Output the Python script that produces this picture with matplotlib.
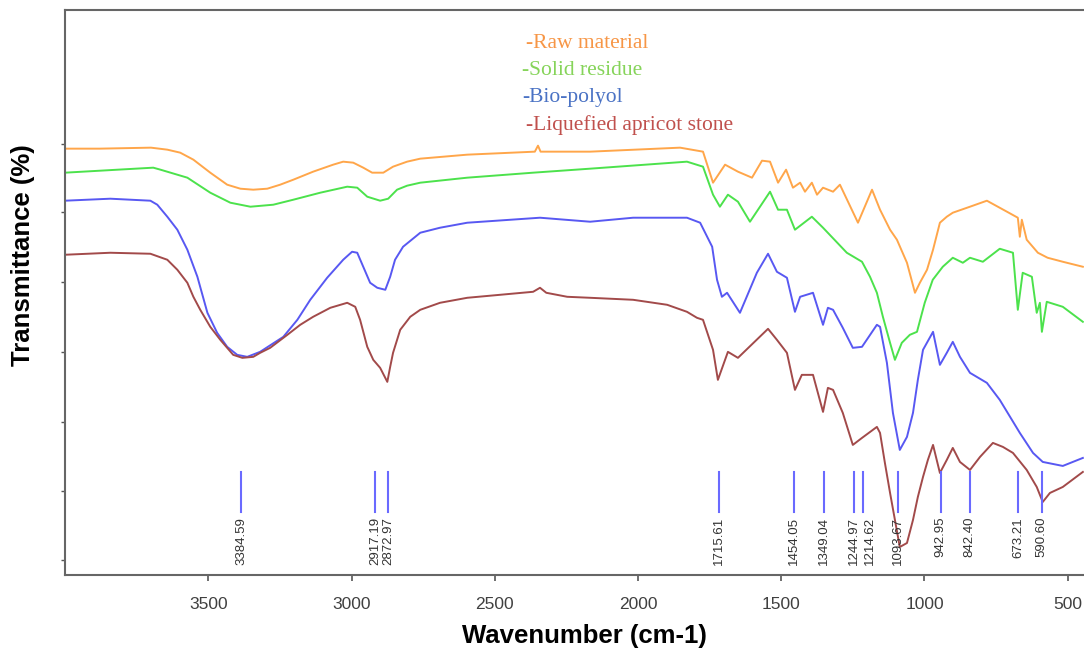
import matplotlib
matplotlib.use('Agg')
import matplotlib.pyplot as plt

# FTIR spectra, values (arbitrary transmittance units)
raw_wn = [4000, 3880, 3700, 3643, 3598, 3552, 3493, 3434, 3388, 3343, 3294, 3249, 3203,
          3134, 3064, 3029, 2994, 2959, 2928, 2889, 2855, 2806, 2760, 2596, 2360, 2349,
          2340, 2167, 1853, 1773, 1738, 1696, 1651, 1602, 1567, 1539, 1511, 1483, 1459,
          1434, 1417, 1393, 1375, 1354, 1319, 1295, 1232, 1183, 1155, 1120, 1096, 1061,
          1033, 1016, 991, 970, 946, 922, 901, 841, 782, 712, 674, 667, 660, 643, 604,
          570, 517, 447]
raw_t = [426, 426, 427, 425, 422, 415, 402, 390, 386, 385, 386, 390, 395,
         403, 410, 413, 412, 407, 402, 402, 408, 413, 416, 420, 423, 429,
         423, 423, 427, 423, 392, 410, 403, 397, 414, 413, 392, 405, 387,
         392, 383, 392, 380, 387, 383, 390, 352, 385, 365, 345, 335, 312,
         282, 292, 305, 325, 352, 358, 362, 368, 374, 363, 357, 338, 355, 335, 322,
         317, 313, 308]

res_wn = [4000, 3692, 3667, 3573, 3493, 3423, 3353, 3273, 3203, 3109, 3015, 2980, 2945,
          2900, 2872, 2841, 2806, 2760, 2596, 2366, 2167, 1829, 1773, 1738, 1714, 1686,
          1651, 1609, 1539, 1511, 1480, 1452, 1393, 1354, 1271, 1218, 1190, 1166, 1145,
          1120, 1103, 1079, 1051, 1026, 999, 971, 936, 901, 866, 841, 796, 737, 691,
          674, 657, 625, 608, 597, 590, 573, 517, 447]
res_t = [402, 407, 405, 397, 382, 372, 368, 370, 375, 382, 388, 387, 378,
         374, 376, 385, 389, 392, 397, 402, 406, 413, 408, 380, 368, 380,
         373, 353, 383, 365, 365, 345, 358, 347, 322, 313, 298, 282, 258,
         232, 215, 232, 240, 243, 272, 295, 308, 317, 312, 317, 313, 326, 322,
         265, 302, 298, 262, 272, 243, 273, 268, 253]

bio_wn = [4000, 3842, 3702, 3678, 3643, 3608, 3573, 3538, 3503, 3469, 3434, 3399, 3364,
          3319, 3238, 3189, 3144, 3085, 3029, 2998, 2980, 2959, 2935, 2910, 2882, 2865,
          2848, 2820, 2760, 2691, 2596, 2342, 2167, 2017, 1829, 1783, 1741, 1724, 1707,
          1689, 1644, 1585, 1546, 1515, 1480, 1452, 1434, 1389, 1354, 1337, 1319, 1285,
          1250, 1218, 1166, 1155, 1131, 1110, 1086, 1061, 1040, 1023, 1005, 970, 946,
          922, 901, 876, 841, 782, 737, 667, 621, 587, 517, 447]
bio_t = [374, 376, 374, 370, 358, 345, 325, 298, 262, 242, 228, 220, 218,
         223, 238, 255, 275, 297, 315, 323, 322, 308, 292, 287, 285, 298,
         315, 328, 342, 347, 352, 357, 353, 357, 357, 352, 328, 295, 278,
         282, 262, 302, 321, 303, 297, 263, 278, 282, 250, 267, 265, 247,
         227, 228, 250, 248, 212, 162, 125, 138, 162, 195, 225, 243, 210,
         222, 233, 218, 202, 192, 175, 142, 122, 113, 109, 117]

liq_wn = [4000, 3842, 3702, 3643, 3608, 3573, 3552, 3528, 3493, 3458, 3413, 3381, 3343,
          3319, 3284, 3224, 3179, 3134, 3074, 3015, 2987, 2970, 2945, 2924, 2900, 2875,
          2865, 2855, 2830, 2795, 2760, 2691, 2596, 2481, 2366, 2342, 2320, 2247, 2167,
          2017, 1898, 1829, 1794, 1773, 1738, 1721, 1686, 1651, 1546, 1515, 1480, 1452,
          1428, 1389, 1354, 1337, 1319, 1285, 1250, 1218, 1166, 1155, 1138, 1120, 1103,
          1086, 1061, 1040, 1023, 1005, 988, 970, 946, 922, 901, 876, 841, 806, 761,
          726, 691, 643, 608, 587, 562, 517, 447]
liq_t = [320, 322, 321, 315, 305, 292, 278, 265, 248, 235, 220, 217, 218,
         222, 227, 240, 250, 258, 267, 272, 268, 255, 228, 215, 207, 193,
         208, 222, 245, 258, 265, 272, 277, 280, 283, 287, 282, 278, 277,
         275, 270, 263, 257, 255, 225, 195, 223, 217, 246, 235, 222, 185,
         200, 200, 163, 187, 185, 162, 130, 137, 148, 142, 112, 82, 55,
         28, 32, 55, 78, 98, 115, 130, 102, 115, 127, 113, 105, 118, 132,
         128, 122, 105, 88, 73, 82, 88, 103]

peak_wn = [3384.59, 2917.19, 2872.97, 1715.61, 1454.05, 1349.04, 1244.97, 1214.62,
           1093.67, 942.95, 842.40, 673.21, 590.60]
peak_labels = ['3384.59', '2917.19', '2872.97', '1715.61', '1454.05', '1349.04', '1244.97',
               '1214.62', '1093.67', '942.95', '842.40', '673.21', '590.60']

series_names = ['-Raw material', '-Solid residue', '-Bio-polyol', '-Liquefied apricot stone']
line_colors = ['#FFA64A', '#4CE24C', '#5858F2', '#A24A4A']
text_colors = ['#F79646', '#86D45A', '#4A72C4', '#C0504D']

fig = plt.figure(figsize=(10.84, 6.53), dpi=100)
ax = fig.add_axes([0.06, 0.1194, 0.94, 0.866])

spectra = [(raw_wn, raw_t), (res_wn, res_t), (bio_wn, bio_t), (liq_wn, liq_t)]
for (wn, t), c in zip(spectra, line_colors):
    ax.plot(wn, t, color=c, lw=1.4, solid_joinstyle='round')

# peak markers
for wn, lab in zip(peak_wn, peak_labels):
    ax.plot([wn, wn], [63, 103], color='#6A6AFF', lw=1.5)
    dx = 5 if lab == '1214.62' else 0
    ax.annotate(lab, (wn, 58), xytext=(dx, 0), textcoords='offset points',
                rotation=90, ha='center', va='top', fontsize=9.5,
                color='#333333', family='Liberation Sans')

# legend as coloured text
for i, (name, c) in enumerate(zip(series_names, text_colors)):
    fig.text(0.482 if i in (1, 2) else 0.485, 0.933 - i * 0.0413, name, color=c,
             fontsize=15.5, family='Liberation Serif', va='center', ha='left')

ax.set_xlim(4000, 443)
ax.set_ylim(0, 565)
ax.set_xticks([3500, 3000, 2500, 2000, 1500, 1000, 500])
ax.set_yticks([15, 84, 153, 223, 293, 363, 431])
ax.set_yticklabels([])
ax.tick_params(axis='x', direction='out', length=4, width=1.2, colors='#555555',
               labelsize=12.5, labelcolor='#404040', pad=12)
ax.tick_params(axis='y', direction='out', length=3, width=1, colors='#555555')
for lab in ax.get_xticklabels():
    lab.set_family('Liberation Sans')

for side in ['left', 'top', 'bottom']:
    ax.spines[side].set_color('#666666')
    ax.spines[side].set_linewidth(1.5)
ax.spines['right'].set_visible(False)

ax.set_xlabel('Wavenumber (cm-1)', fontsize=18.5, fontweight='bold',
              family='Liberation Sans')
ax.xaxis.set_label_coords(0.51, -0.086)
ax.set_ylabel('Transmittance (%)', fontsize=18.5, fontweight='bold',
              family='Liberation Sans')
ax.yaxis.set_label_coords(-0.029, 0.565)

fig.savefig('out.png', dpi=100)
